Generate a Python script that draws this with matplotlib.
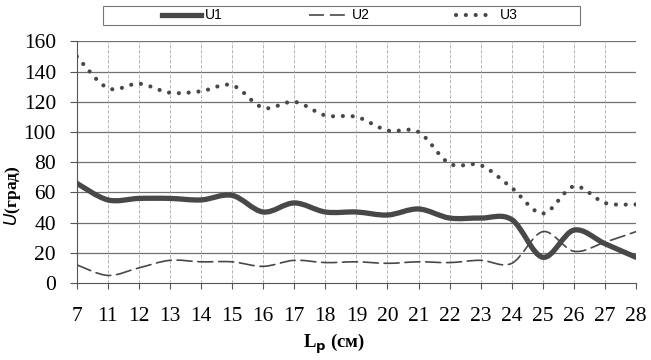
import matplotlib
matplotlib.use('Agg')
import matplotlib.pyplot as plt
import numpy as np
from matplotlib.path import Path
from matplotlib.patches import PathPatch, Rectangle
from matplotlib.lines import Line2D

# данные
categories = ['7', '11', '12', '13', '14', '15', '16', '17', '18', '19',
              '20', '21', '22', '23', '24', '25', '26', '27', '28']
u1 = [66, 55, 56, 56, 55, 58, 47, 53, 47, 47, 45, 49, 43, 43, 42, 17, 35, 26, 17]
u2 = [12, 5, 10, 15, 14, 14, 11, 15, 13.5, 14, 13, 14, 13.5, 15, 13, 34, 21, 27, 34]
u3 = [150, 129, 132, 126, 127, 131, 116, 120, 111, 110, 101, 100, 79, 78, 63, 46, 64, 53, 52]
y_ticks = [0, 20, 40, 60, 80, 100, 120, 140, 160]

plt.rcParams['font.family'] = ['Liberation Serif', 'DejaVu Serif']

GREY = '#484848'
u1_style = dict(lw=3.8, ls='-')
u2_style = dict(lw=1.2, ls=(0, (9, 3.5)))
u3_style = dict(lw=3.0, ls=(0, (0.01, 2.35)))


def smooth_path(xs, ys, t=1/6):
    # кривая Безье через точки (сглаженная линия как в Excel)
    pts = list(zip(xs, ys))
    verts = [pts[0]]
    codes = [Path.MOVETO]
    n = len(pts)
    for i in range(n - 1):
        p0 = pts[i - 1] if i > 0 else pts[i]
        p1 = pts[i]
        p2 = pts[i + 1]
        p3 = pts[i + 2] if i + 2 < n else pts[i + 1]
        c1 = (p1[0] + (p2[0] - p0[0]) * t, p1[1] + (p2[1] - p0[1]) * t)
        c2 = (p2[0] - (p3[0] - p1[0]) * t, p2[1] - (p3[1] - p1[1]) * t)
        verts += [c1, c2, p2]
        codes += [Path.CURVE4] * 3
    return Path(verts, codes)


fig = plt.figure(figsize=(6.51, 3.6), dpi=100)
ax = fig.add_axes([0.118, 0.214, 0.859, 0.671])

x = np.arange(len(categories))
for vals, st in [(u1, u1_style), (u2, u2_style), (u3, u3_style)]:
    p = PathPatch(smooth_path(x, vals), facecolor='none', edgecolor=GREY,
                  lw=st['lw'], linestyle=st['ls'], zorder=3)
    p.set_capstyle('round')
    ax.add_patch(p)

ax.set_xlim(0, len(categories) - 1)
ax.set_ylim(0, 160)
ax.set_xticks(x)
ax.set_xticklabels(categories, fontsize=15.5)
ax.set_yticks(y_ticks)
ax.set_yticklabels([str(v) for v in y_ticks], fontsize=15.5)

for v in y_ticks[1:]:
    ax.axhline(v, color='#707070', lw=0.9, zorder=1)
for xi in x[1:]:
    ax.axvline(xi, color='#a8a8a8', lw=0.6, linestyle=(0, (4, 2)), zorder=1)

for s in ['top', 'right']:
    ax.spines[s].set_visible(False)
ax.spines['left'].set_color('#555555')
ax.spines['bottom'].set_color('#555555')
ax.tick_params(axis='y', direction='out', length=5, color='#555555', pad=10)
ax.tick_params(axis='x', direction='out', length=4, color='#555555', pad=13)

ax.set_ylabel(r'$\mathbf{\mathit{U}}$(град)', fontsize=12.5, fontweight='bold')
ax.yaxis.set_label_coords(-0.097, 0.36)
ax.set_xlabel(r'L$_\mathbf{p}$ (см)', fontsize=13.5, fontweight='bold')
ax.xaxis.set_label_coords(0.46, -0.2)

# рамка легенды сверху
fig.patches.append(Rectangle((0.158, 0.931), 0.733, 0.052, transform=fig.transFigure,
                             facecolor='white', edgecolor='#777777', lw=0.8))
handles = [Line2D([], [], color=GREY, lw=u1_style['lw'], ls=u1_style['ls']),
           Line2D([], [], color=GREY, lw=u2_style['lw'], ls=u2_style['ls']),
           Line2D([], [], color=GREY, lw=u3_style['lw'], ls=u3_style['ls'],
                  dash_capstyle='round')]
fig.legend(handles, ['U1', 'U2', 'U3'], loc='center', ncol=3,
           bbox_to_anchor=(0.522, 0.957),
           prop={'family': 'Liberation Sans', 'size': 10},
           frameon=False, handlelength=2.8, handletextpad=0.3,
           columnspacing=6.2, borderpad=0.1)

fig.savefig('out.png', dpi=100)
